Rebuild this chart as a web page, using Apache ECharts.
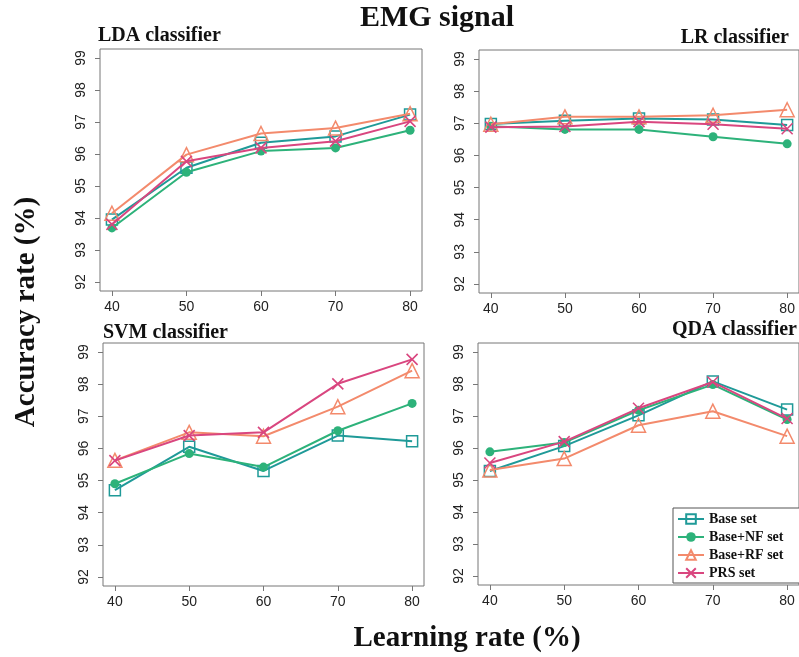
<!DOCTYPE html>
<html>
<head>
<meta charset="utf-8">
<script src="https://cdn.jsdelivr.net/npm/echarts@6/dist/echarts.min.js"></script>
<style>
html,body{margin:0;padding:0;background:#fff;}
#chart{width:799px;height:657px;}
</style>
</head>
<body>
<div id="chart"></div>
<script>
// ---- data ----
const learningRates = [40, 50, 60, 70, 80];
const yTicks = [92, 93, 94, 95, 96, 97, 98, 99];
const setNames = ['Base set', 'Base+NF set', 'Base+RF set', 'PRS set'];
const panelTitles = ['LDA classifier', 'LR classifier', 'SVM classifier', 'QDA classifier'];

const ldaBase = [93.95, 95.57, 96.35, 96.55, 97.23];
const ldaNF   = [93.69, 95.43, 96.09, 96.19, 96.74];
const ldaRF   = [94.15, 95.98, 96.64, 96.81, 97.26];
const ldaPRS  = [93.80, 95.77, 96.19, 96.40, 97.02];

const lrBase = [96.98, 97.08, 97.15, 97.12, 96.95];
const lrNF   = [96.91, 96.81, 96.81, 96.58, 96.36];
const lrRF   = [96.97, 97.20, 97.20, 97.25, 97.42];
const lrPRS  = [96.88, 96.90, 97.05, 96.97, 96.83];

const svmBase = [94.70, 96.05, 95.30, 96.40, 96.22];
const svmNF   = [94.90, 95.84, 95.42, 96.55, 97.40];
const svmRF   = [95.63, 96.50, 96.38, 97.30, 98.42];
const svmPRS  = [95.62, 96.40, 96.50, 98.01, 98.77];

const qdaBase = [95.28, 96.06, 97.02, 98.08, 97.20];
const qdaNF   = [95.88, 96.17, 97.18, 97.98, 96.89];
const qdaRF   = [95.31, 95.67, 96.71, 97.15, 96.37];
const qdaPRS  = [95.53, 96.20, 97.24, 98.06, 96.92];

const panelData = [
  [ldaBase, ldaNF, ldaRF, ldaPRS],
  [lrBase, lrNF, lrRF, lrPRS],
  [svmBase, svmNF, svmRF, svmPRS],
  [qdaBase, qdaNF, qdaRF, qdaPRS]
];

// ---- styling ----
const colors = ['#1f9a98', '#2db27a', '#f38a6c', '#d9467f'];
const grids = [
  {left: 100, top: 49, width: 322, height: 242},
  {left: 479, top: 50, width: 323, height: 243},
  {left: 103, top: 343, width: 321, height: 243},
  {left: 478, top: 343, width: 323, height: 242}
];
const boxColor = '#777';
const serif = '"Liberation Serif", "Times New Roman", serif';
const sans = '"Liberation Sans", Arial, sans-serif';

function symbolFor(k, c) {
  if (k === 0) return {symbol: 'rect', symbolSize: 11, itemStyle: {color: 'rgba(255,255,255,0)', borderColor: c, borderWidth: 1.5}};
  if (k === 1) return {symbol: 'circle', symbolSize: 9, itemStyle: {color: c, borderColor: c, borderWidth: 0}};
  if (k === 2) return {symbol: 'triangle', symbolSize: 14, itemStyle: {color: 'rgba(255,255,255,0)', borderColor: c, borderWidth: 1.5}};
  return {symbol: 'path://M0,0L10,10M0,10L10,0', symbolSize: 11, itemStyle: {color: 'rgba(255,255,255,0)', borderColor: c, borderWidth: 1.6}};
}

const xPad = (learningRates[learningRates.length - 1] - learningRates[0]) * 0.04;
const yPad = (yTicks[yTicks.length - 1] - yTicks[0]) * 0.04;

const xAxes = [], yAxes = [], series = [];
grids.forEach((g, i) => {
  xAxes.push({
    type: 'value', gridIndex: i,
    min: learningRates[0] - xPad, max: learningRates[learningRates.length - 1] + xPad,
    axisLine: {show: false},
    splitLine: {show: false},
    axisTick: {show: true, customValues: learningRates, length: 5, lineStyle: {color: boxColor}},
    axisLabel: {customValues: learningRates, margin: 9, color: '#222', fontFamily: sans, fontSize: 14}
  });
  yAxes.push({
    type: 'value', gridIndex: i,
    min: yTicks[0] - yPad, max: yTicks[yTicks.length - 1] + yPad,
    axisLine: {show: false},
    splitLine: {show: false},
    axisTick: {show: true, customValues: yTicks, length: 5, lineStyle: {color: boxColor}},
    axisLabel: {customValues: yTicks, rotate: 90, margin: 12, color: '#222', fontFamily: sans, fontSize: 14}
  });
  panelData[i].forEach((vals, k) => {
    const s = symbolFor(k, colors[k]);
    series.push(Object.assign({
      name: setNames[k], type: 'line', xAxisIndex: i, yAxisIndex: i,
      data: learningRates.map((x, j) => [x, vals[j]]),
      lineStyle: {color: colors[k], width: 2},
      showSymbol: true, z: 2 + k,
      emphasis: {disabled: true},
      silent: true
    }, s));
  });
});

const titleStyle = {fontFamily: serif, fontWeight: 'bold', fill: '#111'};
function txt(t, x, y, size, align, rot) {
  return {type: 'text', x: x, y: y, rotation: rot || 0, z: 100,
    style: Object.assign({text: t, fontSize: size, textAlign: align, textVerticalAlign: 'middle'}, titleStyle)};
}

const option = {
  backgroundColor: '#fff',
  animation: false,
  grid: grids.map(g => Object.assign({show: true, borderColor: boxColor, borderWidth: 1, backgroundColor: 'transparent'}, g)),
  xAxis: xAxes,
  yAxis: yAxes,
  series: series,
  legend: {
    data: setNames,
    orient: 'vertical',
    left: 673, top: 508,
    itemWidth: 26, itemHeight: 12, itemGap: 4,
    padding: [4, 40, 3, 4],
    backgroundColor: '#fff',
    borderColor: '#555', borderWidth: 1,
    textStyle: {fontFamily: serif, fontWeight: 'bold', fontSize: 14, color: '#111'},
    selectedMode: false
  },
  graphic: [
    txt('EMG signal', 437, 18, 30, 'center'),
    txt(panelTitles[0], 98, 36, 20, 'left'),
    txt(panelTitles[1], 789, 38, 20, 'right'),
    txt(panelTitles[2], 103, 333, 20, 'left'),
    txt(panelTitles[3], 797, 330, 20, 'right'),
    txt('Accuracy rate (%)', 27, 312, 29, 'center', Math.PI / 2),
    txt('Learning rate (%)', 467, 639, 29, 'center')
  ]
};

const chart = echarts.init(document.getElementById('chart'), null, {renderer: 'canvas'});
chart.setOption(option);
</script>
</body>
</html>
